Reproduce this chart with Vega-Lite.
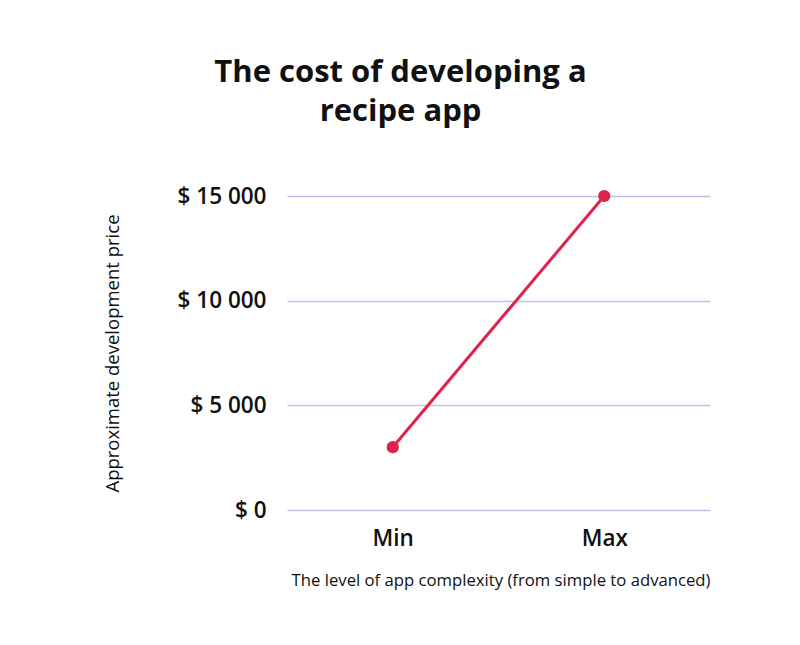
{
  "$schema": "https://vega.github.io/schema/vega-lite/v6.json",
  "autosize": "none",
  "width": 423,
  "height": 314,
  "padding": {"left": 287, "top": 196, "right": 90, "bottom": 135},
  "background": "white",
  "title": {
    "text": ["The cost of developing a", "recipe app"],
    "font": "Open Sans",
    "fontSize": 31,
    "fontWeight": "bold",
    "color": "#111111",
    "lineHeight": 39,
    "anchor": "middle",
    "dx": -98,
    "offset": 57
  },
  "data": {
    "values": [
      {"level": "Min", "price": 3000},
      {"level": "Max", "price": 15000}
    ]
  },
  "mark": {"type": "line", "color": "#e0224b", "strokeWidth": 3, "point": {"filled": true, "size": 150, "color": "#e0224b", "opacity": 1}},
  "encoding": {
    "x": {
      "field": "level",
      "type": "ordinal",
      "sort": ["Min", "Max"],
      "scale": {"type": "point", "padding": 0.5},
      "axis": {
        "title": "The level of app complexity (from simple to advanced)",
        "titleFont": "Open Sans",
        "titleFontSize": 16.7,
        "titleFontWeight": "normal",
        "titleColor": "#111111",
        "titleAnchor": "end",
        "titleBaseline": "middle",
        "titleX": 423,
        "titleY": 70,
        "labelFont": "Open Sans",
        "labelFontSize": 22.5,
        "labelFontWeight": 600,
        "labelColor": "#111111",
        "labelAngle": 0,
        "labelPadding": 17,
        "domain": false,
        "ticks": false
      }
    },
    "y": {
      "field": "price",
      "type": "quantitative",
      "scale": {"domain": [0, 15000]},
      "axis": {
        "title": "Approximate development price",
        "titleFont": "Open Sans",
        "titleFontSize": 18.5,
        "titleFontWeight": "normal",
        "titleColor": "#111111",
        "titleX": -165,
        "titleY": 157,
        "values": [0, 5000, 10000, 15000],
        "labelExpr": "'$ ' + replace(format(datum.value, ','), ',', ' ')",
        "labelFont": "Open Sans",
        "labelFontSize": 22.5,
        "labelFontWeight": 600,
        "labelColor": "#111111",
        "labelPadding": 21,
        "domain": false,
        "ticks": false,
        "grid": true,
        "gridColor": "#bcc1ee",
        "gridWidth": 1.5
      }
    }
  },
  "config": {
    "view": {"stroke": null}
  }
}
